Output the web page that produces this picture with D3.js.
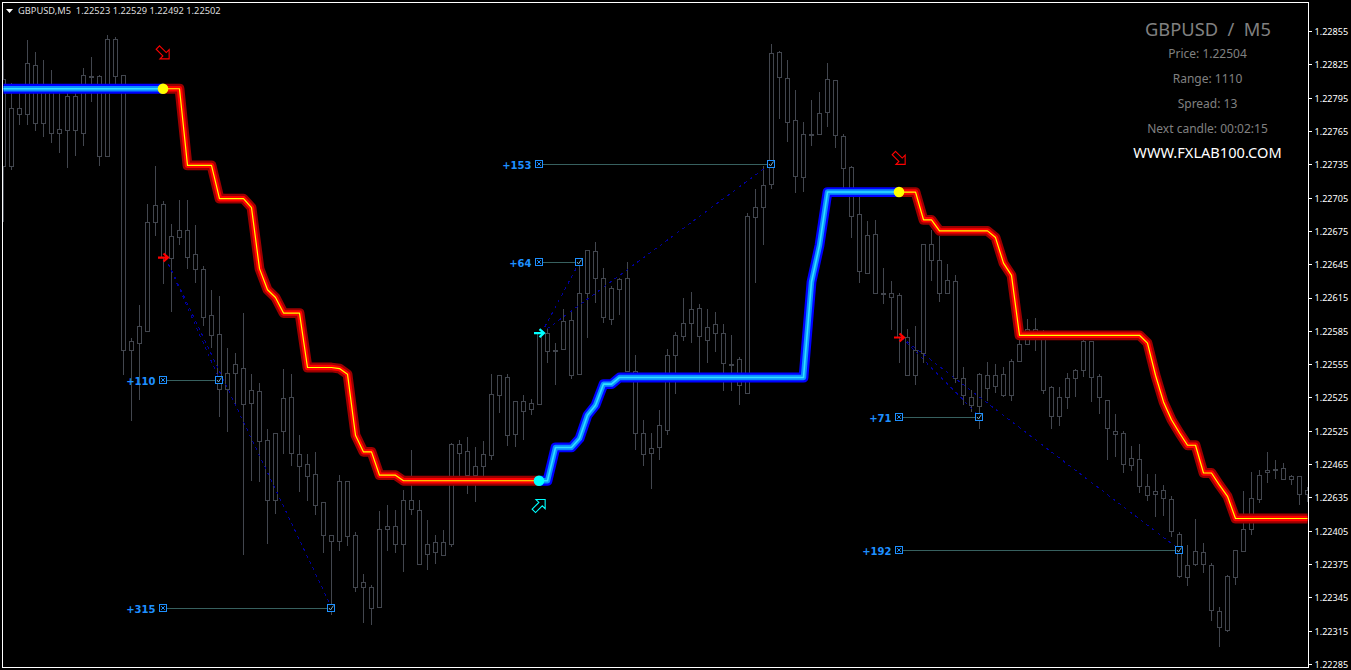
<!DOCTYPE html>
<html><head><meta charset="utf-8">
<script src="https://cdn.jsdelivr.net/npm/d3@7/dist/d3.min.js"></script>
<style>html,body{margin:0;padding:0;background:#000;overflow:hidden}svg{display:block}</style>
</head><body><svg id="c" width="1351" height="670"></svg>
<script>
// Prices are in points above 1.22000 (855 = 1.22855)
const candleHigh=[829,808,806,847,836,829,820,802,806,804,822,832,815,851,850,815,579,608,699,733,702,681,703,703,680,643,622,616,570,565,601,546,538,497,493,551,546,491,474,476,431,401,455,450,404,366,356,423,428,424,442,478,433,415,401,406,484,487,489,480,486,546,545,546,521,527,524,584,588,574,605,604,647,657,665,642,625,633,647,563,505,493,514,569,584,615,620,609,605,602,591,581,561,691,713,733,843,837,829,802,773,793,800,826,811,762,733,706,684,685,642,630,619,587,589,663,676,670,645,635,552,532,547,557,555,552,560,595,596,597,586,535,534,547,551,578,576,546,522,510,495,481,483,456,456,446,436,404,392,416,394,376,336,365,388,441,458,460,476,469,466,455,454,444];
const candleBodyTop=[811,785,785,826,824,804,800,766,796,796,815,814,814,847,847,815,575,589,683,698,699,670,675,675,654,640,599,582,547,555,551,531,530,486,493,524,525,474,465,456,430,401,449,449,401,358,354,406,409,409,432,432,423,393,394,394,483,483,476,463,474,528,545,543,521,521,520,583,583,567,593,594,619,657,656,632,623,631,632,548,493,479,500,563,581,592,604,605,588,591,583,555,559,688,696,716,835,836,812,774,762,762,781,811,810,760,732,690,671,672,619,619,617,579,567,663,663,648,630,629,542,525,546,545,545,546,557,573,586,586,579,534,525,542,549,575,575,544,522,494,493,470,469,445,440,441,433,402,374,386,385,374,332,364,387,406,434,455,459,460,461,454,454,441];
const candleBodyBottom=[733,733,780,780,772,772,763,763,765,765,763,813,742,742,814,567,567,574,584,683,651,650,669,651,640,597,581,532,532,547,519,520,485,432,432,494,475,463,454,428,401,395,395,400,354,354,335,336,406,393,393,424,375,384,385,383,393,475,455,455,463,473,527,491,492,512,514,519,566,566,568,545,546,619,632,597,595,622,548,493,474,475,480,495,563,580,592,580,576,583,556,554,536,529,687,696,717,813,773,724,723,761,762,782,761,731,688,638,637,619,618,615,579,545,545,565,648,619,619,542,527,518,517,533,535,527,527,557,573,581,531,508,508,525,542,549,543,525,497,492,465,464,445,437,438,434,404,364,363,375,375,333,318,315,363,386,406,433,457,459,451,451,438,438];
const candleLow=[683,730,770,770,765,760,754,745,732,742,751,791,733,742,802,545,504,523,584,670,627,602,662,641,628,589,570,507,494,518,383,450,449,393,420,474,463,440,432,419,385,329,387,391,350,322,320,335,387,385,368,419,375,370,375,383,390,454,438,431,454,469,511,481,480,487,509,518,556,536,568,542,546,579,610,592,590,599,548,478,463,443,469,491,528,576,574,547,556,566,531,531,518,529,628,662,713,776,755,709,710,751,761,769,750,712,669,628,636,618,609,586,556,545,536,556,630,611,619,538,518,512,497,522,529,525,522,557,572,567,528,497,499,515,525,543,521,510,469,471,457,459,439,432,417,418,399,362,355,373,367,324,300,314,356,386,401,430,448,452,451,446,428,431];

const trendBlueA=[803,803,803,803,803,803,803,803,803,803,803,803,803,803,803,803,803,803,803,803,803];
const trendRedA=[803,803,803,734,734,734,734,704,704,704,704,696,641,622,615,601,601,601,552,552,552,552,551,546,491,476,476,455,455,455,450,450,450,450,450,450,450,450,450,450,450,450,450,450,450,450,450,450];
const trendBlueB=[450,450,480,480,480,488,509,518,537,537,543,543,543,543,543,543,543,543,543,543,543,543,543,543,543,543,543,543,543,543,543,543,543,543,629,662,710,710,710,710,710,710,710,710,710,710];
const trendRedB=[710,710,710,685,685,675,675,675,675,675,675,675,669,646,635,581,581,581,581,581,581,581,581,581,581,581,581,581,581,581,581,574,545,521,505,493,482,482,457,457,446,436,416,416,416,416,416,416,416,416,416,416];
const trendStarts=[0,20,67,112];

const tickValues=[855,825,795,765,735,705,675,645,615,585,555,525,495,465,435,405,375,345,315,285];
const tickLabels=["1.22855","1.22825","1.22795","1.22765","1.22735","1.22705","1.22675","1.22645","1.22615","1.22585","1.22555","1.22525","1.22525","1.22465","1.22635","1.22405","1.22375","1.22345","1.22315","1.22285"];

const headerText="GBPUSD,M5  1.22523 1.22529 1.22492 1.22502";
const infoTitle="GBPUSD  /  M5";
const infoLines=["Price: 1.22504","Range: 1110","Spread: 13","Next candle: 00:02:15"];
const infoSite="WWW.FXLAB100.COM";

const tradeLabels=["+110","+315","+64","+153","+71","+192"];
const tradeOpenIndex=[20,20,67,67,112,112];
const tradeCloseIndex=[27,41,72,96,122,147];
const tradeClosePrice=[541,336,647,736,508,388];
const entryIndex=[20,67,112];
const entryPrice=[651,583,579];
const entryColour=["#ff0000","#00ffff","#ff0000"];
const hollowIndex=[20,67,112];
const hollowPrice=[835,428,740];
const hollowColour=["#ff0000","#00ffff","#ff0000"];
const hollowRotate=[45,-45,45];
const dotIndex=[20,67,112];
const dotPrice=[803,450,710];
const dotColour=["#ffff00","#00ffff","#ffff00"];

const svg=d3.select("#c");
const x=d3.scaleLinear().domain([0,163]).range([3.5,1307.5]);
const y=d3.scaleLinear().domain([855,285]).range([31,664]);
const snap=v=>Math.round(v-0.5)+0.5;

svg.append("rect").attr("width",1351).attr("height",670).attr("fill","#000");
svg.append("defs").append("clipPath").attr("id","plot").append("rect")
  .attr("x",3).attr("y",3).attr("width",1305).attr("height",664);
const plot=svg.append("g").attr("clip-path","url(#plot)");

// candles
const idx=d3.range(candleHigh.length);
const grey="#42464e";
const cg=plot.append("g").attr("shape-rendering","crispEdges");
cg.selectAll("line").data(idx).join("line")
  .attr("x1",i=>x(i)).attr("x2",i=>x(i))
  .attr("y1",i=>y(candleHigh[i])).attr("y2",i=>y(candleLow[i]))
  .attr("stroke",grey);
cg.selectAll("rect").data(idx).join("rect")
  .attr("x",i=>x(i)-2).attr("width",4)
  .attr("y",i=>snap(y(candleBodyTop[i])))
  .attr("height",i=>Math.max(1,snap(y(candleBodyBottom[i]))-snap(y(candleBodyTop[i]))))
  .attr("fill","#000").attr("stroke",grey);

// dashed trade lines
const tg=plot.append("g");
tradeLabels.forEach((t,k)=>{
  const e=entryIndex.indexOf(tradeOpenIndex[k]);
  tg.append("line")
    .attr("x1",x(tradeOpenIndex[k])+2).attr("y1",y(entryPrice[e]))
    .attr("x2",x(tradeCloseIndex[k])).attr("y2",y(tradeClosePrice[k]))
    .attr("stroke","#00009a").attr("stroke-dasharray","3,4").attr("shape-rendering","crispEdges");
});

// trend lines
const lineGen=d3.line().x(d=>x(d[0])).y(d=>y(d[1])).curve(d3.curveLinear);
[[trendBlueA,0],[trendRedA,1],[trendBlueB,0],[trendRedB,1]].forEach((s,k)=>{
  const pts=s[0].map((v,i)=>[trendStarts[k]+i,v]);
  const cols=s[1]?["#9b0000","#ff0000","#ffff00"]:["#0000ff","#0a90ff","#30e0ff"];
  const widths=s[1]?[9.8,5.4,1.2]:[9.8,5.4,1.6];
  cols.forEach((c,j)=>plot.append("path").attr("d",lineGen(pts)).attr("fill","none")
    .attr("stroke",c).attr("stroke-width",widths[j]).attr("stroke-linejoin","round"));
});

// dots
plot.selectAll("circle.dot").data(dotIndex).join("circle").attr("class","dot")
  .attr("cx",d=>x(d)-0.5).attr("cy",(d,i)=>y(dotPrice[i])).attr("r",5.3)
  .attr("fill",(d,i)=>dotColour[i]);

// hollow signal arrows
const hollowShape="M-8,-2.4 L1.5,-2.4 L1.5,-6.5 L8,0 L1.5,6.5 L1.5,2.4 L-8,2.4 Z";
plot.selectAll("path.hollow").data(hollowIndex).join("path").attr("class","hollow")
  .attr("d",hollowShape).attr("fill","none")
  .attr("stroke",(d,i)=>hollowColour[i]).attr("stroke-width",1.1)
  .attr("transform",(d,i)=>`translate(${x(d)},${y(hollowPrice[i])}) rotate(${hollowRotate[i]})`);

// entry arrows
const entryShape="M-5.5,0 L3.5,0 M0,-4 L4.5,0 L0,4";
plot.selectAll("path.entry").data(entryIndex).join("path").attr("class","entry")
  .attr("d",entryShape).attr("fill","none")
  .attr("stroke",(d,i)=>entryColour[i]).attr("stroke-width",2.2)
  .attr("transform",(d,i)=>`translate(${x(d)},${y(entryPrice[i])})`);

// trade markers
const mg=plot.append("g");
tradeLabels.forEach((t,k)=>{
  const px=y(tradeClosePrice[k]), x0=x(tradeOpenIndex[k]), x1=x(tradeCloseIndex[k]);
  const ly=snap(px)+1;
  mg.append("line").attr("x1",x0).attr("x2",x1).attr("y1",ly).attr("y2",ly)
    .attr("stroke","#37605f").attr("shape-rendering","crispEdges");
  [x0,x1].forEach((cx,j)=>{
    mg.append("rect").attr("x",cx-4).attr("y",ly-4).attr("width",7).attr("height",7)
      .attr("fill","#000").attr("stroke","#1e90ff").attr("shape-rendering","crispEdges");
    mg.append("path").attr("transform",`translate(${cx-0.5},${ly-0.5})`)
      .attr("d",j?"M-2,0 L-0.5,2 L2.5,-2.5":"M-1.8,-1.8 L1.8,1.8 M1.8,-1.8 L-1.8,1.8")
      .attr("fill","none").attr("stroke",j?"#6fa8c8":"#1e90ff").attr("stroke-width",1);
  });
  mg.append("text").text(t).attr("x",x0-8).attr("y",ly+4).attr("text-anchor","end")
    .attr("font-family","DejaVu Sans").attr("font-weight","bold").attr("font-size",10)
    .attr("fill","#1e90ff");
});

// frame
svg.append("rect").attr("x",2.5).attr("y",2.5).attr("width",1306).attr("height",665)
  .attr("fill","none").attr("stroke","#fff").attr("shape-rendering","crispEdges");

// right axis
const axis=d3.axisRight(y).tickValues(tickValues).tickSize(3).tickPadding(3)
  .tickFormat((d,i)=>tickLabels[i]);
const ag=svg.append("g").attr("transform","translate(1308.5,0)").call(axis);
ag.select(".domain").remove();
ag.selectAll("line").attr("stroke","#fff").attr("shape-rendering","crispEdges");
ag.selectAll("text").attr("fill","#fff").attr("font-family","Noto Sans").attr("font-size",9.1)
  .attr("transform","translate(0,0.5)");

// header
svg.append("path").attr("d",d3.line()([[6,9],[13,9],[9.5,13]])+"Z").attr("fill","#fff");
svg.append("text").text(headerText).attr("x",18).attr("y",14).attr("xml:space","preserve")
  .style("white-space","pre")
  .attr("fill","#dcdcdc").attr("font-family","Noto Sans").attr("font-size",9.3);

// info panel
const info=svg.append("g").attr("font-family","Noto Sans").attr("text-anchor","middle");
info.append("text").text(infoTitle).attr("x",1208).attr("y",36).style("white-space","pre")
  .attr("fill","#808080").attr("font-size",18.3);
info.selectAll("text.l").data(infoLines).join("text").attr("class","l").text(d=>d)
  .attr("x",1207.5).attr("y",(d,i)=>58+i*24.9).attr("fill","#808080").attr("font-size",12);
info.append("text").text(infoSite).attr("x",1207.5).attr("y",158)
  .attr("fill","#fff").attr("font-size",14.6);
</script></body></html>
